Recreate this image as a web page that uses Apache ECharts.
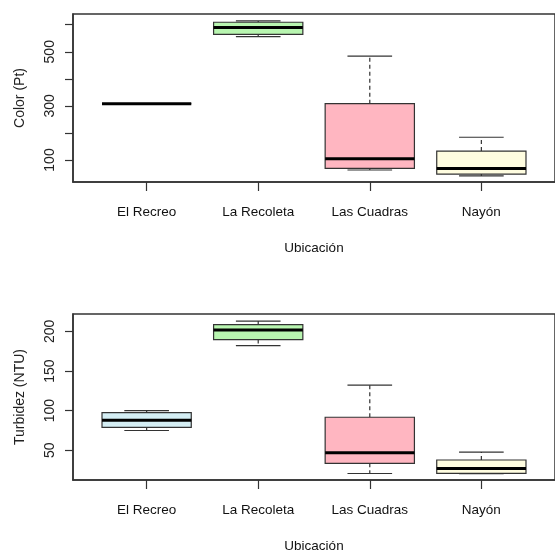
<!DOCTYPE html>
<html><head><meta charset="utf-8">
<script src="https://cdn.jsdelivr.net/npm/echarts@6/dist/echarts.min.js"></script>
<style>html,body{margin:0;padding:0;background:#fff}#c{width:555px;height:554px}</style>
</head><body><div id="c"></div>
<script>
const categories = ['El Recreo', 'La Recoleta', 'Las Cuadras', 'Nayón'];
const positions = [1, 2, 3, 4];
// [min, Q1, median, Q3, max]
const colorPt = [
  [308, 308, 308, 308, 308],
  [556, 564.5, 590, 609, 614],
  [63, 69, 105, 308, 484],
  [41, 48, 69, 133, 184]
];
const turbidezNTU = [
  [75, 79, 88, 97.5, 100],
  [182, 189.6, 201.6, 208.6, 213],
  [20.8, 33.6, 47, 91.7, 132.3],
  [20.5, 21, 27, 37.8, 47.8]
];
const colorTicks = [100, 200, 300, 400, 500, 600];
const colorTickLabels = [100, 300, 500];
const turbTicks = [50, 100, 150, 200];
const turbTickLabels = [50, 100, 150, 200];
const xTitle = 'Ubicación';
const yTitles = ['Color (Pt)', 'Turbidez (NTU)'];

const fills = ['#d4eef4', '#b8f5b0', '#ffb6c1', '#fffde0'];
const frame = '#333';

function renderBox(params, api) {
  const x = api.value(0);
  const pMin = api.coord([x, api.value(1)]);
  const pQ1 = api.coord([x, api.value(2)]);
  const pMd = api.coord([x, api.value(3)]);
  const pQ3 = api.coord([x, api.value(4)]);
  const pMax = api.coord([x, api.value(5)]);
  const hw = api.size([0.4, 0])[0];
  const cw = api.size([0.2, 0])[0];
  const cx = pMd[0];
  const lw = 1.2;
  return {
    type: 'group',
    children: [
      { type: 'line', shape: { x1: cx, y1: pQ3[1], x2: cx, y2: pMax[1] }, style: { stroke: frame, lineWidth: lw, lineDash: [4, 3] } },
      { type: 'line', shape: { x1: cx, y1: pQ1[1], x2: cx, y2: pMin[1] }, style: { stroke: frame, lineWidth: lw, lineDash: [4, 3] } },
      { type: 'line', shape: { x1: cx - cw, y1: pMax[1], x2: cx + cw, y2: pMax[1] }, style: { stroke: frame, lineWidth: lw } },
      { type: 'line', shape: { x1: cx - cw, y1: pMin[1], x2: cx + cw, y2: pMin[1] }, style: { stroke: frame, lineWidth: lw } },
      { type: 'rect', shape: { x: cx - hw, y: pQ3[1], width: 2 * hw, height: pQ1[1] - pQ3[1] }, style: { fill: api.visual('color'), stroke: frame, lineWidth: lw } },
      { type: 'line', shape: { x1: cx - hw, y1: pMd[1], x2: cx + hw, y2: pMd[1] }, style: { stroke: '#000', lineWidth: 3 } }
    ]
  };
}

function makeData(stats) {
  return stats.map((s, i) => ({ value: [positions[i]].concat(s), itemStyle: { color: fills[i] } }));
}

function xAxisCfg(gi) {
  return {
    type: 'value', gridIndex: gi, min: 0.34, max: 4.66,
    name: xTitle, nameLocation: 'middle', nameGap: 59,
    nameTextStyle: { fontFamily: 'Liberation Sans', fontSize: 13.5, color: '#111' },
    axisLine: { show: true, lineStyle: { color: frame, width: 1.5 } },
    axisTick: { show: true, length: 9, customValues: positions, lineStyle: { color: frame, width: 1.2 } },
    axisLabel: { customValues: positions, margin: 23, formatter: v => categories[Math.round(v) - 1],
      fontFamily: 'Liberation Sans', fontSize: 13.5, color: '#111' },
    splitLine: { show: false }
  };
}
function yAxisCfg(gi, min, max, ticks, labels, title) {
  return {
    type: 'value', gridIndex: gi, min: min, max: max,
    name: title, nameLocation: 'middle', nameGap: 46,
    nameTextStyle: { fontFamily: 'Liberation Sans', fontSize: 14, color: '#222' },
    axisLine: { show: true, lineStyle: { color: frame, width: 1.5 } },
    axisTick: { show: true, length: 8, customValues: ticks, lineStyle: { color: frame, width: 1.2 } },
    axisLabel: { customValues: labels, rotate: 90, margin: 16, fontFamily: 'Liberation Sans', fontSize: 14, color: '#222' },
    splitLine: { show: false }
  };
}

const chart = echarts.init(document.getElementById('c'), null, { renderer: 'canvas' });
chart.setOption({
  backgroundColor: '#fff',
  animation: false,
  grid: [
    { left: 73, top: 14, width: 483, height: 168, show: true, borderColor: frame, borderWidth: 1.5 },
    { left: 73, top: 314, width: 483, height: 168, show: true, borderColor: frame, borderWidth: 1.5 }
  ],
  xAxis: [xAxisCfg(0), xAxisCfg(1)],
  yAxis: [
    yAxisCfg(0, 18.7, 639.5, colorTicks, colorTickLabels, yTitles[0]),
    yAxisCfg(1, 12.6, 221.9, turbTicks, turbTickLabels, yTitles[1])
  ],
  series: [
    { type: 'custom', xAxisIndex: 0, yAxisIndex: 0, renderItem: renderBox, encode: { x: 0, y: [1, 2, 3, 4, 5] }, data: makeData(colorPt) },
    { type: 'custom', xAxisIndex: 1, yAxisIndex: 1, renderItem: renderBox, encode: { x: 0, y: [1, 2, 3, 4, 5] }, data: makeData(turbidezNTU) }
  ]
});
</script>
</body></html>
